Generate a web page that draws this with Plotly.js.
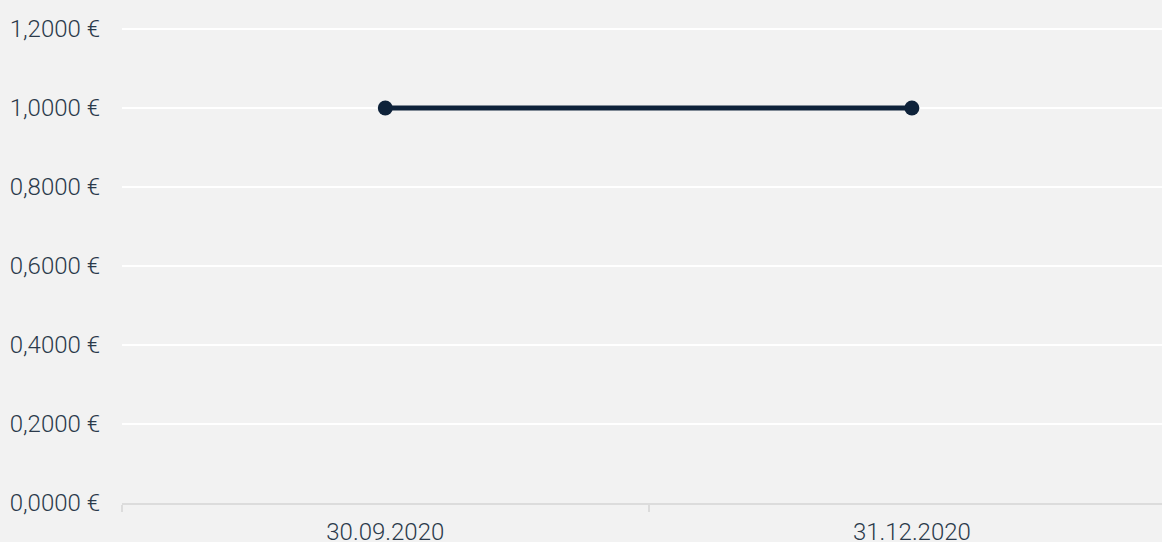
<!DOCTYPE html>
<html>
<head>
<meta charset="utf-8">
<script src="https://cdn.plot.ly/plotly-3.0.1.min.js"></script>
<style>html,body{margin:0;padding:0;background:#f2f2f2;overflow:hidden}</style>
</head>
<body>
<div id="chart" style="width:1162px;height:542px"></div>
<script>
const categories = ['30.09.2020', '31.12.2020'];
const values = [1.0, 1.0];
const yTickVals = [0, 0.2, 0.4, 0.6, 0.8, 1.0, 1.2];
const yTickText = ['0,0000 €', '0,2000 €', '0,4000 €', '0,6000 €', '0,8000 €', '1,0000 €', '1,2000 €'];

const trace = {
  x: categories,
  y: values,
  type: 'scatter',
  mode: 'lines+markers',
  line: {color: '#0e223a', width: 5},
  marker: {color: '#0e223a', size: 15},
  hoverinfo: 'skip'
};

const layout = {
  width: 1162,
  height: 542,
  margin: {l: 122, r: 0, t: 27, b: 39, pad: 0},
  paper_bgcolor: '#f2f2f2',
  plot_bgcolor: '#f2f2f2',
  font: {family: 'Roboto', size: 24, color: '#2b3a4b', weight: 300},
  showlegend: false,
  xaxis: {
    type: 'category',
    range: [-0.5, 1.475],
    showgrid: false,
    zeroline: false,
    showline: true,
    linecolor: '#dcdcdc',
    linewidth: 2,
    ticks: 'outside',
    tickson: 'boundaries',
    ticklen: 7,
    tickwidth: 2,
    tickcolor: '#dcdcdc',
    ticklabelstandoff: 6,
    tickfont: {family: 'Roboto', size: 24, color: '#2b3a4b', weight: 300}
  },
  yaxis: {
    range: [0, 1.205],
    tickvals: yTickVals,
    ticktext: yTickText,
    showgrid: true,
    gridcolor: '#ffffff',
    gridwidth: 2,
    zeroline: false,
    showline: false,
    ticks: '',
    ticklabelstandoff: 21,
    tickfont: {family: 'Roboto', size: 24, color: '#2b3a4b', weight: 300}
  }
};

Plotly.newPlot('chart', [trace], layout, {displayModeBar: false, staticPlot: true});
</script>
</body>
</html>
